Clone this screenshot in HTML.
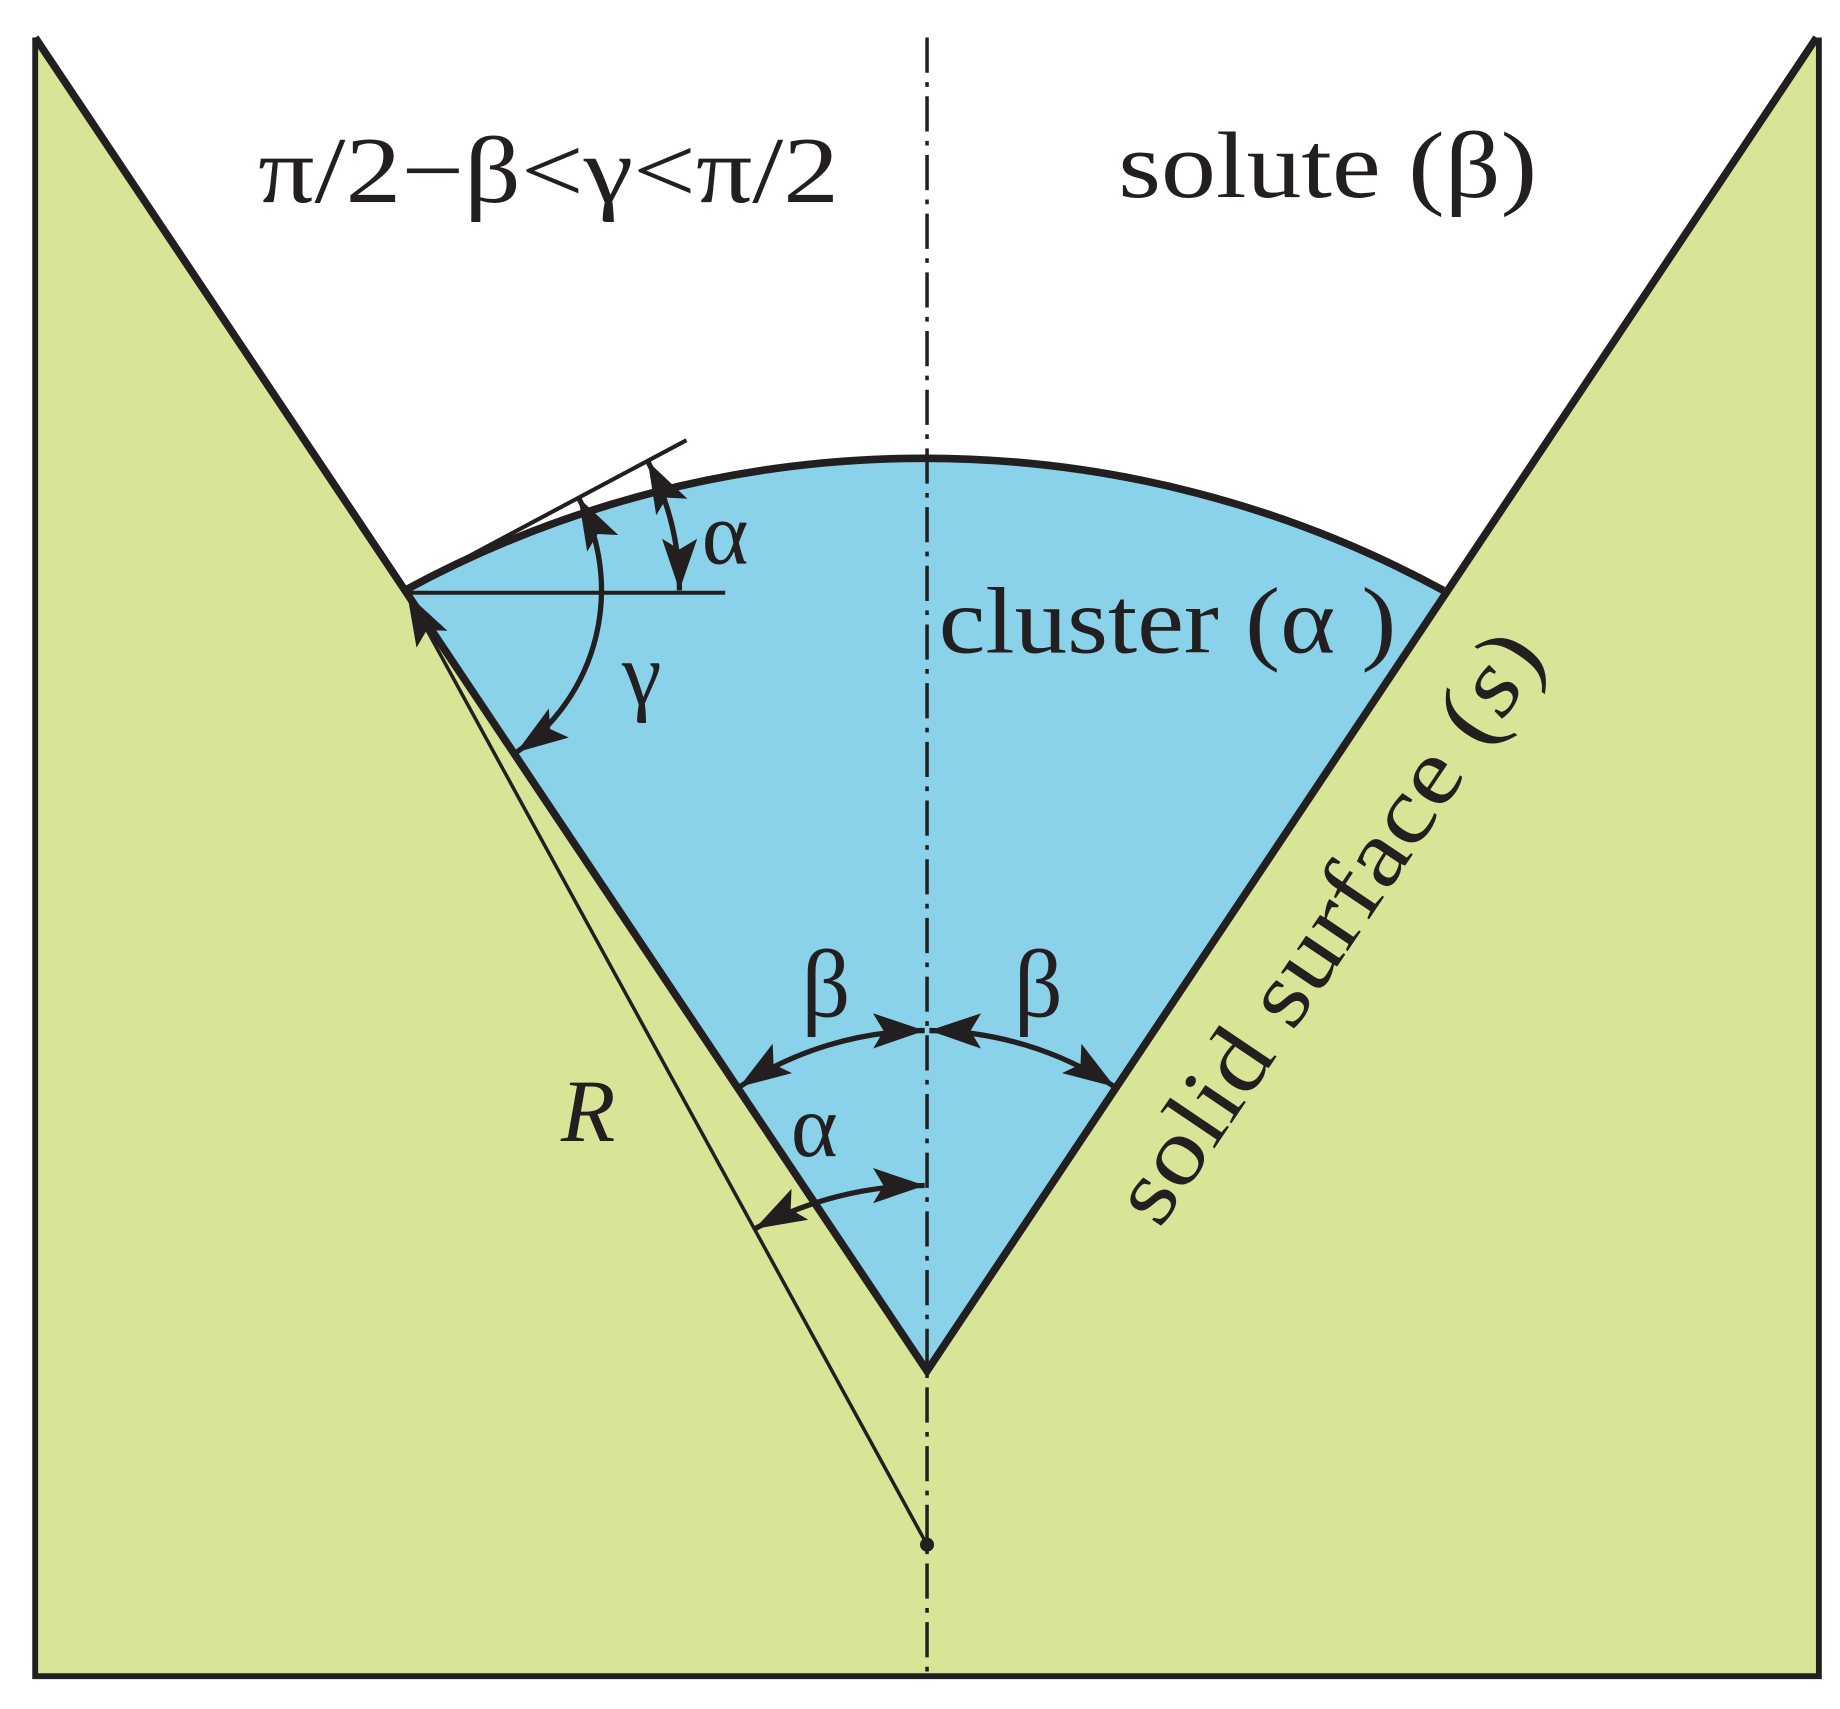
<!DOCTYPE html>
<html><head><meta charset="utf-8"><style>html,body{margin:0;padding:0;background:#fff}svg{display:block}
.t{font-family:"Liberation Serif","Times New Roman",serif;fill:#231f20}</style></head>
<body>
<svg width="1840" height="1709" viewBox="0 0 1568 1456" preserveAspectRatio="none" xmlns="http://www.w3.org/2000/svg">
<defs>
<marker id="a" viewBox="0 0 44 30" refX="44" refY="15" markerWidth="44" markerHeight="30" markerUnits="userSpaceOnUse" orient="auto-start-reverse">
<path d="M0,0 L44,15 L0,30 L9,15 Z" fill="#231f20"/>
</marker>
</defs>
<path d="M30,32 L345,503 L790,1168 L1230,503 L1548,32 L1550,1428 L30,1428 Z" fill="#d9e596"/>
<path d="M345,503 A926,926 0 0 1 1230,503 L790,1168 Z" fill="#89d2ea"/>
<path d="M30,32 L790,1168 L1548,32" fill="none" stroke="#231f20" stroke-width="6.5" stroke-linejoin="miter"/>
<path d="M30,32 L30,1428 L1550,1428 L1550,32" fill="none" stroke="#231f20" stroke-width="5"/>
<path d="M345,503 A926,926 0 0 1 1230,503" fill="none" stroke="#231f20" stroke-width="6.5"/>
<line x1="790" y1="32" x2="790" y2="1428" stroke="#231f20" stroke-width="3" stroke-dasharray="30,8,4,8"/>
<line x1="345" y1="503" x2="585" y2="375" stroke="#231f20" stroke-width="3.5"/>
<line x1="345" y1="505" x2="618" y2="505" stroke="#231f20" stroke-width="3.5"/>
<line x1="790" y1="1316" x2="347" y2="506" stroke="#231f20" stroke-width="3" marker-end="url(#a)"/>
<circle cx="790" cy="1316" r="6" fill="#231f20"/>
<path d="M493,424 A168,168 0 0 1 440,641" fill="none" stroke="#231f20" stroke-width="4.5" marker-start="url(#a)" marker-end="url(#a)"/>
<path d="M552,393 A235,235 0 0 1 579,503" fill="none" stroke="#231f20" stroke-width="4.5" marker-start="url(#a)" marker-end="url(#a)"/>
<path d="M788,878 A290,290 0 0 0 630,926" fill="none" stroke="#231f20" stroke-width="4.5" marker-start="url(#a)" marker-end="url(#a)"/>
<path d="M792,878 A290,290 0 0 1 950,926" fill="none" stroke="#231f20" stroke-width="4.5" marker-start="url(#a)" marker-end="url(#a)"/>
<path d="M643,1047 A306,306 0 0 1 788,1010" fill="none" stroke="#231f20" stroke-width="4.5" marker-start="url(#a)" marker-end="url(#a)"/>
<g class="t" font-size="80">
<text class="t" x="220" y="172" textLength="495" lengthAdjust="spacingAndGlyphs">π/2−β&lt;γ&lt;π/2</text>
<text class="t" x="953" y="168" textLength="357" lengthAdjust="spacingAndGlyphs">solute (β)</text>
<text class="t" x="800" y="556" textLength="390" lengthAdjust="spacingAndGlyphs">cluster (α )</text>
<text class="t" x="530" y="600" font-size="76">γ</text>
<text class="t" x="598" y="480" font-size="76">α</text>
<text class="t" x="683" y="866" font-size="82">β</text>
<text class="t" x="864" y="866" font-size="82">β</text>
<text class="t" x="674" y="985" font-size="76">α</text>
<text class="t" x="478" y="972" font-size="76" font-style="italic">R</text>
<text class="t" transform="translate(988,1048) rotate(-56)" font-size="80" textLength="590" lengthAdjust="spacingAndGlyphs">solid surface (<tspan font-style="italic">s</tspan>)</text>
</g>
</svg>
</body></html>
